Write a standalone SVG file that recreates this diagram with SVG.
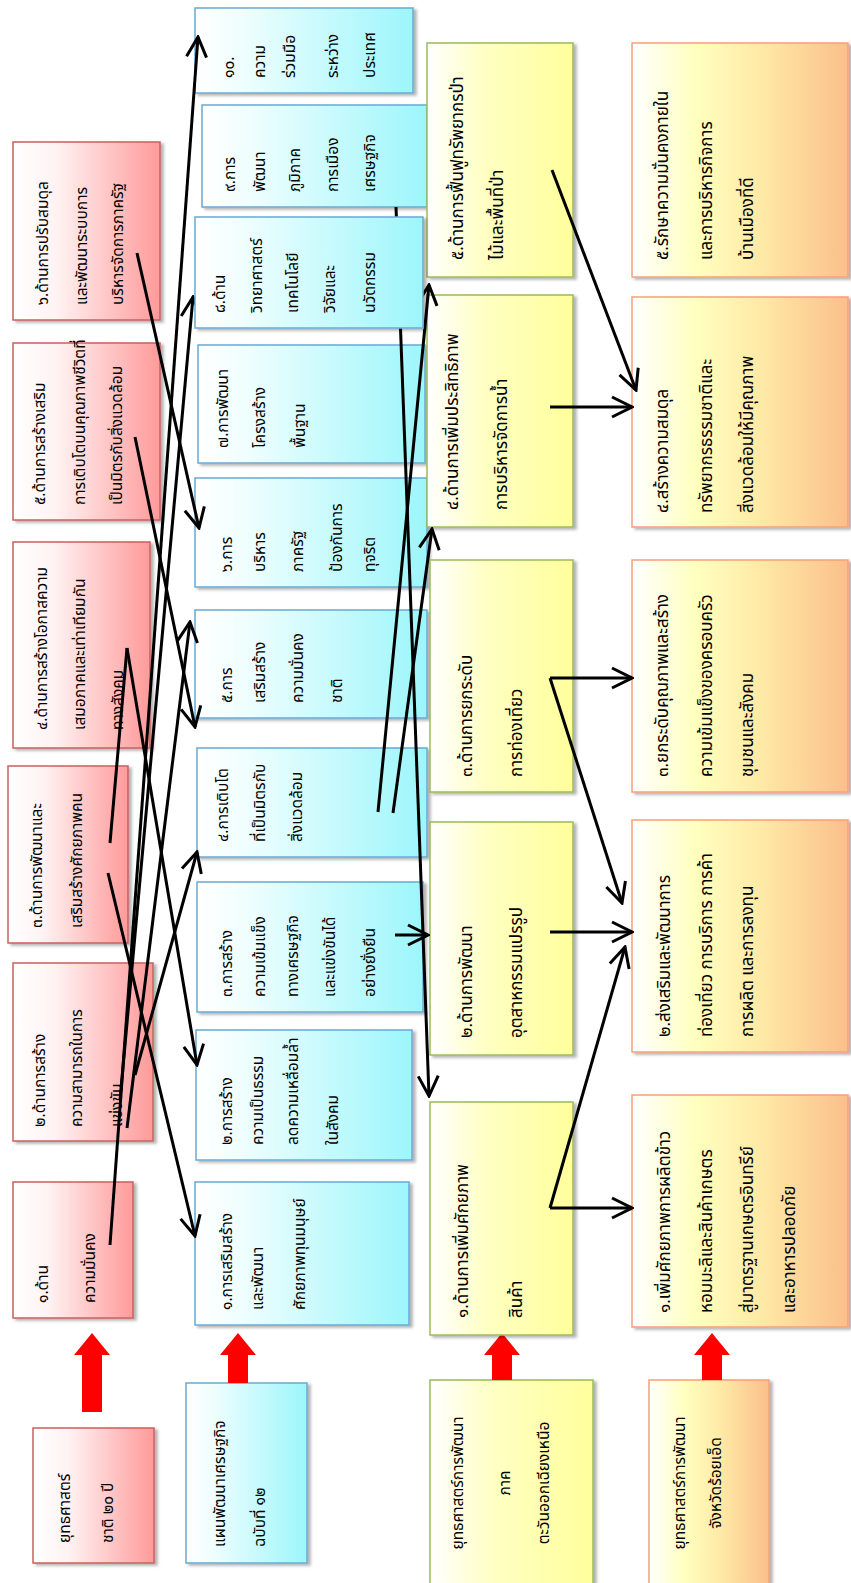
<svg xmlns="http://www.w3.org/2000/svg" width="851" height="1583" viewBox="0 0 851 1583">
<style>
.t{font-family:"Noto Sans Thai","Tahoma","Leelawadee UI","Loma","Garuda","DejaVu Sans",sans-serif;font-size:15.5px;fill:#000}
.L{font-size:17px}
.c{text-anchor:middle}
.red{fill:url(#gRed);stroke:#c9605c;stroke-width:1.5}
.cy{fill:url(#gCy);stroke:#6aa9d4;stroke-width:1.5}
.ye{fill:url(#gYe);stroke:#9bbb59;stroke-width:1.5}
.or{fill:url(#gOr);stroke:#f7a07a;stroke-width:1.5}
.box{filter:url(#sh)}
.ln{fill:none;stroke:#000;stroke-width:3;marker-end:url(#ah)}
.ln0{fill:none;stroke:#000;stroke-width:3}
.ra{fill:#ff0000}
</style>
<defs>
<linearGradient id="gRed" x1="0" y1="0" x2="1" y2="0"><stop offset="0" stop-color="#ffffff"/><stop offset="0.3" stop-color="#fff2f2"/><stop offset="1" stop-color="#ff9a9a"/></linearGradient>
<linearGradient id="gCy" x1="0" y1="0" x2="1" y2="0"><stop offset="0" stop-color="#ffffff"/><stop offset="0.22" stop-color="#effefe"/><stop offset="1" stop-color="#9cf6fb"/></linearGradient>
<linearGradient id="gYe" x1="0" y1="0" x2="1" y2="0"><stop offset="0" stop-color="#ffffff"/><stop offset="0.4" stop-color="#ffffc2"/><stop offset="1" stop-color="#ffff9c"/></linearGradient>
<linearGradient id="gOr" x1="0" y1="0" x2="1" y2="0"><stop offset="0" stop-color="#ffffff"/><stop offset="0.3" stop-color="#ffffbe"/><stop offset="0.6" stop-color="#ffe9a6"/><stop offset="1" stop-color="#fbbf8c"/></linearGradient>
<filter id="sh" x="-5%" y="-5%" width="115%" height="115%"><feDropShadow dx="3" dy="2" stdDeviation="1.5" flood-color="#000" flood-opacity="0.3"/></filter>
<marker id="ah" viewBox="0 0 24 24" refX="22" refY="12" markerWidth="24" markerHeight="24" markerUnits="userSpaceOnUse" orient="auto"><path d="M2,2 L22,12 L2,22" fill="none" stroke="#000" stroke-width="3"/></marker>
</defs>

<g id="src-red"><rect class="red box" x="33" y="1428" width="121" height="135"/>
<text class="t" transform="translate(70,1543) rotate(-90)">ยุทธศาสตร์</text>
<text class="t" transform="translate(113,1543) rotate(-90)">ชาติ ๒๐ ปี</text></g>
<g id="src-cyan"><rect class="cy box" x="186" y="1383" width="121" height="180"/>
<text class="t" transform="translate(225,1547) rotate(-90)">แผนพัฒนาเศรษฐกิจ</text>
<text class="t" transform="translate(265,1547) rotate(-90)">ฉบับที่ ๑๒</text></g>
<g id="src-yellow"><rect class="ye box" x="430" y="1380" width="163" height="215"/>
<text class="t c" transform="translate(463,1483) rotate(-90)">ยุทธศาสตร์การพัฒนา</text>
<text class="t c" transform="translate(510,1483) rotate(-90)">ภาค</text>
<text class="t c" transform="translate(549,1483) rotate(-90)">ตะวันออกเฉียงเหนือ</text></g>
<g id="src-orange"><rect class="or box" x="649" y="1380" width="120" height="215"/>
<text class="t c" transform="translate(685,1483) rotate(-90)">ยุทธศาสตร์การพัฒนา</text>
<text class="t c" transform="translate(721,1483) rotate(-90)">จังหวัดร้อยเอ็ด</text></g>

<g id="red-arrows">
<polygon class="ra" points="92,1333 110,1355 102,1355 102,1412 82,1412 82,1355 74,1355"/>
<polygon class="ra" points="238,1333 256,1355 248,1355 248,1383 228,1383 228,1355 220,1355"/>
<polygon class="ra" points="502,1333 520,1355 512,1355 512,1380 492,1380 492,1355 484,1355"/>
<polygon class="ra" points="712,1333 730,1355 722,1355 722,1380 702,1380 702,1355 694,1355"/>
</g>

<g id="r1"><rect class="red box" x="13" y="1182" width="120" height="136"/>
<text class="t" transform="translate(48,1303) rotate(-90)">๑.ด้าน</text>
<text class="t" transform="translate(95,1303) rotate(-90)">ความมั่นคง</text></g>
<g id="r2"><rect class="red box" x="13" y="963" width="140" height="178"/>
<text class="t" transform="translate(45,1127) rotate(-90)">๒.ด้านการสร้าง</text>
<text class="t" transform="translate(82,1127) rotate(-90)">ความสามารถในการ</text>
<text class="t" transform="translate(122,1127) rotate(-90)">แข่งขัน</text></g>
<g id="r3"><rect class="red box" x="8" y="766" width="120" height="177"/>
<text class="t" transform="translate(42,928) rotate(-90)">๓.ด้านการพัฒนาและ</text>
<text class="t" transform="translate(82,928) rotate(-90)">เสริมสร้างศักยภาพคน</text></g>
<g id="r4"><rect class="red box" x="13" y="542" width="137" height="206"/>
<text class="t" transform="translate(47,730) rotate(-90)">๔.ด้านการสร้างโอกาสความ</text>
<text class="t" transform="translate(85,730) rotate(-90)">เสมอภาคและเท่าเทียมกัน</text>
<text class="t" transform="translate(123,730) rotate(-90)">ทางสังคม</text></g>
<g id="r5"><rect class="red box" x="13" y="343" width="147" height="177"/>
<text class="t" transform="translate(45,505) rotate(-90)">๕.ด้านการสร้างเสริม</text>
<text class="t" transform="translate(85,505) rotate(-90)">การเติบโตบนคุณภาพชีวิตที่</text>
<text class="t" transform="translate(122,505) rotate(-90)">เป็นมิตรกับสิ่งแวดล้อม</text></g>
<g id="r6"><rect class="red box" x="13" y="142" width="147" height="178"/>
<text class="t" transform="translate(48,305) rotate(-90)">๖.ด้านการปรับสมดุล</text>
<text class="t" transform="translate(87,305) rotate(-90)">และพัฒนาระบบการ</text>
<text class="t" transform="translate(123,305) rotate(-90)">บริหารจัดการภาครัฐ</text></g>

<g id="c1"><rect class="cy box" x="195" y="1182" width="214" height="143"/>
<text class="t" transform="translate(232,1310) rotate(-90)">๑.การเสริมสร้าง</text>
<text class="t" transform="translate(263,1310) rotate(-90)">และพัฒนา</text>
<text class="t" transform="translate(305,1310) rotate(-90)">ศักยภาพทุนมนุษย์</text></g>
<g id="c2"><rect class="cy box" x="196" y="1030" width="216" height="130"/>
<text class="t" transform="translate(232,1145) rotate(-90)">๒.การสร้าง</text>
<text class="t" transform="translate(263,1145) rotate(-90)">ความเป็นธรรม</text>
<text class="t" transform="translate(298,1145) rotate(-90)">ลดความเหลื่อมล้ำ</text>
<text class="t" transform="translate(338,1145) rotate(-90)">ในสังคม</text></g>
<g id="c3"><rect class="cy box" x="197" y="882" width="226" height="130"/>
<text class="t" transform="translate(232,997) rotate(-90)">๓.การสร้าง</text>
<text class="t" transform="translate(265,997) rotate(-90)">ความเข้มแข็ง</text>
<text class="t" transform="translate(298,997) rotate(-90)">ทางเศรษฐกิจ</text>
<text class="t" transform="translate(335,997) rotate(-90)">และแข่งขันได้</text>
<text class="t" transform="translate(375,997) rotate(-90)">อย่างยั่งยืน</text></g>
<g id="c4"><rect class="cy box" x="197" y="748" width="230" height="109"/>
<text class="t" transform="translate(228,842) rotate(-90)">๔.การเติบโต</text>
<text class="t" transform="translate(265,842) rotate(-90)">ที่เป็นมิตรกับ</text>
<text class="t" transform="translate(302,842) rotate(-90)">สิ่งแวดล้อม</text></g>
<g id="c5"><rect class="cy box" x="195" y="610" width="232" height="108"/>
<text class="t" transform="translate(232,703) rotate(-90)">๕.การ</text>
<text class="t" transform="translate(265,703) rotate(-90)">เสริมสร้าง</text>
<text class="t" transform="translate(303,703) rotate(-90)">ความมั่นคง</text>
<text class="t" transform="translate(342,703) rotate(-90)">ชาติ</text></g>
<g id="c6"><rect class="cy box" x="195" y="478" width="232" height="109"/>
<text class="t" transform="translate(232,572) rotate(-90)">๖.การ</text>
<text class="t" transform="translate(265,572) rotate(-90)">บริหาร</text>
<text class="t" transform="translate(303,572) rotate(-90)">ภาครัฐ</text>
<text class="t" transform="translate(342,572) rotate(-90)">ป้องกันการ</text>
<text class="t" transform="translate(375,572) rotate(-90)">ทุจริต</text></g>
<g id="c7"><rect class="cy box" x="198" y="345" width="227" height="118"/>
<text class="t" transform="translate(228,448) rotate(-90)">๗.การพัฒนา</text>
<text class="t" transform="translate(265,448) rotate(-90)">โครงสร้าง</text>
<text class="t" transform="translate(305,448) rotate(-90)">พื้นฐาน</text></g>
<g id="c9"><rect class="cy box" x="202" y="105" width="225" height="102"/>
<text class="t" transform="translate(235,192) rotate(-90)">๙.การ</text>
<text class="t" transform="translate(265,192) rotate(-90)">พัฒนา</text>
<text class="t" transform="translate(300,192) rotate(-90)">ภูมิภาค</text>
<text class="t" transform="translate(338,192) rotate(-90)">การเมือง</text>
<text class="t" transform="translate(375,192) rotate(-90)">เศรษฐกิจ</text></g>
<g id="c10"><rect class="cy box" x="195" y="8" width="218" height="85"/>
<text class="t" transform="translate(234,78) rotate(-90)">๑๐.</text>
<text class="t" transform="translate(265,78) rotate(-90)">ความ</text>
<text class="t" transform="translate(295,78) rotate(-90)">ร่วมมือ</text>
<text class="t" transform="translate(338,78) rotate(-90)">ระหว่าง</text>
<text class="t" transform="translate(375,78) rotate(-90)">ประเทศ</text></g>

<g id="y1"><rect class="ye box" x="430" y="1102" width="143" height="233"/>
<text class="t L" transform="translate(468,1318) rotate(-90)">๑.ด้านการเพิ่มศักยภาพ</text>
<text class="t L" transform="translate(522,1318) rotate(-90)">สินค้า</text></g>
<g id="y2"><rect class="ye box" x="430" y="822" width="143" height="233"/>
<text class="t L" transform="translate(472,1038) rotate(-90)">๒.ด้านการพัฒนา</text>
<text class="t L" transform="translate(522,1038) rotate(-90)">อุตสาหกรรมแปรรูป</text></g>
<g id="y3"><rect class="ye box" x="430" y="560" width="143" height="232"/>
<text class="t L" transform="translate(472,777) rotate(-90)">๓.ด้านการยกระดับ</text>
<text class="t L" transform="translate(522,777) rotate(-90)">การท่องเที่ยว</text></g>
<g id="y4"><rect class="ye box" x="427" y="295" width="146" height="232"/>
<text class="t L" transform="translate(458,510) rotate(-90)">๔.ด้านการเพิ่มประสิทธิภาพ</text>
<text class="t L" transform="translate(507,510) rotate(-90)">การบริหารจัดการน้ำ</text></g>
<g id="y5"><rect class="ye box" x="427" y="43" width="146" height="234"/>
<text class="t L" transform="translate(463,260) rotate(-90)">๕.ด้านการฟื้นฟูทรัพยากรป่า</text>
<text class="t L" transform="translate(503,260) rotate(-90)">ไม้และพื้นที่ป่า</text></g>

<g id="o1"><rect class="or box" x="632" y="1095" width="216" height="232"/>
<text class="t L" transform="translate(670,1313) rotate(-90)">๑.เพิ่มศักยภาพการผลิตข้าว</text>
<text class="t L" transform="translate(712,1313) rotate(-90)">หอมมะลิและสินค้าเกษตร</text>
<text class="t L" transform="translate(753,1313) rotate(-90)">สู่มาตรฐานเกษตรอินทรีย์</text>
<text class="t L" transform="translate(795,1313) rotate(-90)">และอาหารปลอดภัย</text></g>
<g id="o2"><rect class="or box" x="632" y="820" width="216" height="232"/>
<text class="t L" transform="translate(670,1037) rotate(-90)">๒.ส่งเสริมและพัฒนาการ</text>
<text class="t L" transform="translate(712,1037) rotate(-90)">ท่องเที่ยว การบริการ การค้า</text>
<text class="t L" transform="translate(753,1037) rotate(-90)">การผลิต และการลงทุน</text></g>
<g id="o3"><rect class="or box" x="632" y="560" width="216" height="232"/>
<text class="t L" transform="translate(668,777) rotate(-90)">๓.ยกระดับคุณภาพและสร้าง</text>
<text class="t L" transform="translate(712,777) rotate(-90)">ความเข้มแข็งของครอบครัว</text>
<text class="t L" transform="translate(753,777) rotate(-90)">ชุมชนและสังคม</text></g>
<g id="o4"><rect class="or box" x="632" y="297" width="216" height="230"/>
<text class="t L" transform="translate(668,513) rotate(-90)">๔.สร้างความสมดุล</text>
<text class="t L" transform="translate(712,513) rotate(-90)">ทรัพยากรธรรมชาติและ</text>
<text class="t L" transform="translate(753,513) rotate(-90)">สิ่งแวดล้อมให้มีคุณภาพ</text></g>
<g id="o5"><rect class="or box" x="632" y="43" width="216" height="234"/>
<text class="t L" transform="translate(668,260) rotate(-90)">๕.รักษาความมั่นคงภายใน</text>
<text class="t L" transform="translate(712,260) rotate(-90)">และการบริหารกิจการ</text>
<text class="t L" transform="translate(753,260) rotate(-90)">บ้านเมืองที่ดี</text></g>

<g id="connectors">
<path class="ln" d="M110,1245 L198,37"/>
<path class="ln" d="M137,253 L199,528"/>
<path class="ln" d="M135,437 L195,727"/>
<path class="ln" d="M127,1128 L190,622"/>
<path class="ln" d="M135,1075 L197,852"/>
<path class="ln" d="M120,1100 L193,297"/>
<path class="ln" d="M127,648 L197,1065"/>
<path class="ln" d="M108,873 L195,1236"/>
<path class="ln0" d="M110,843 L127,648"/>
<path class="ln" d="M396,207 L429,1096"/>
<path class="ln" d="M378,812 L429,285"/>
<path class="ln" d="M393,813 L432,529"/>
<path class="ln" d="M395,935 L428,935"/>
<path class="ln" d="M552,170 L636,390"/>
<path class="ln" d="M550,407 L632,407"/>
<path class="ln" d="M550,678 L632,678"/>
<path class="ln" d="M550,678 L622,903"/>
<path class="ln" d="M550,932 L632,932"/>
<path class="ln" d="M550,1208 L632,1208"/>
<path class="ln" d="M550,1208 L625,947"/>
</g>

<g id="c8"><rect class="cy box" x="195" y="217" width="228" height="111"/>
<text class="t" transform="translate(225,313) rotate(-90)">๘.ด้าน</text>
<text class="t" transform="translate(262,313) rotate(-90)">วิทยาศาสตร์</text>
<text class="t" transform="translate(298,313) rotate(-90)">เทคโนโลยี</text>
<text class="t" transform="translate(335,313) rotate(-90)">วิจัยและ</text>
<text class="t" transform="translate(375,313) rotate(-90)">นวัตกรรม</text></g>
</svg>
